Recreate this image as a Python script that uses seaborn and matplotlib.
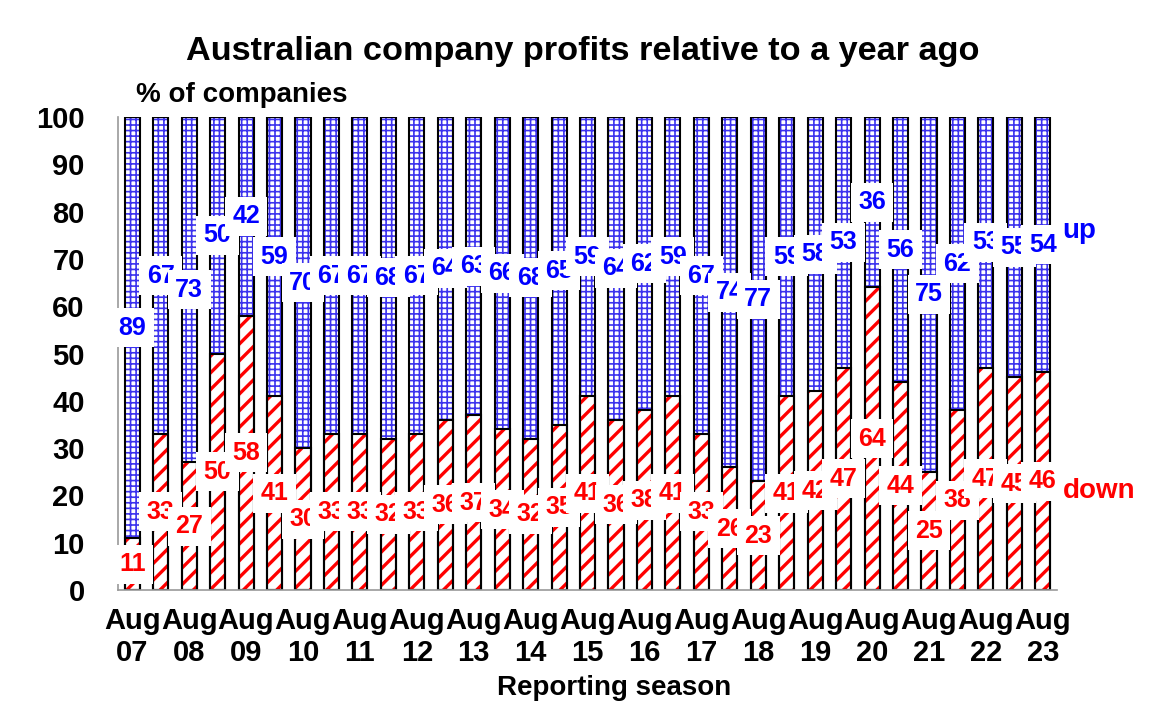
import numpy as np
import seaborn as sns
import matplotlib.pyplot as plt
import pandas as pd

seasons = ["Aug 07", "Feb 08", "Aug 08", "Feb 09", "Aug 09", "Feb 10", "Aug 10",
           "Feb 11", "Aug 11", "Feb 12", "Aug 12", "Feb 13", "Aug 13", "Feb 14",
           "Aug 14", "Feb 15", "Aug 15", "Feb 16", "Aug 16", "Feb 17", "Aug 17",
           "Feb 18", "Aug 18", "Feb 19", "Aug 19", "Feb 20", "Aug 20", "Feb 21",
           "Aug 21", "Feb 22", "Aug 22", "Feb 23", "Aug 23"]
down = [11, 33, 27, 50, 58, 41, 30, 33, 33, 32, 33, 36, 37, 34, 32, 35, 41,
        36, 38, 41, 33, 26, 23, 41, 42, 47, 64, 44, 25, 38, 47, 45, 46]
up = [89, 67, 73, 50, 42, 59, 70, 67, 67, 68, 67, 64, 63, 66, 68, 65, 59,
      64, 62, 59, 67, 74, 77, 59, 58, 53, 36, 56, 75, 62, 53, 55, 54]
tick_seasons = [s for s in seasons if s.startswith("Aug")]

BLUE = "#0000FF"
RED = "#FF0000"

df = pd.DataFrame({"season": seasons, "down": down, "up": up})
df["total"] = df["down"] + df["up"]

sns.set_style("white")
plt.rcParams["font.family"] = ["Liberation Sans", "DejaVu Sans"]
plt.rcParams["font.weight"] = "bold"
plt.rcParams["text.color"] = "black"
plt.rcParams["axes.labelcolor"] = "black"
plt.rcParams["xtick.labelcolor"] = "black"
plt.rcParams["ytick.labelcolor"] = "black"
plt.rcParams["hatch.linewidth"] = 1.2

fig = plt.figure(figsize=(11.65, 7.1), dpi=100)
ax = fig.add_axes([0.1013, 0.169, 0.806, 0.666])

bw = 0.53
sns.barplot(data=df, x="season", y="total", order=seasons, width=bw, errorbar=None,
            facecolor="white", edgecolor="#3c32ee", hatch="+++", linewidth=0, ax=ax)
n1 = len(ax.patches)
sns.barplot(data=df, x="season", y="down", order=seasons, width=bw, errorbar=None,
            facecolor="white", edgecolor=RED, hatch="//", linewidth=0, ax=ax)
for i, p in enumerate(ax.patches):
    if hasattr(p, "set_hatch_linewidth"):
        p.set_hatch_linewidth(1.2 if i < n1 else 2.4)

# black outlines
sns.barplot(data=df, x="season", y="total", order=seasons, width=bw, errorbar=None,
            facecolor="none", edgecolor="black", linewidth=1.5, ax=ax)
sns.barplot(data=df, x="season", y="down", order=seasons, width=bw, errorbar=None,
            facecolor="none", edgecolor="black", linewidth=1.5, ax=ax)

box = dict(boxstyle="square,pad=0.3", fc="white", ec="none")
for i, d in enumerate(down):
    ax.text(i, d / 2, f"{d}", ha="center", va="center", color=RED,
            fontsize=18, fontweight="bold", bbox=box, zorder=5)
for i, (d, u) in enumerate(zip(down, up)):
    ax.text(i, d + u / 2, f"{u}", ha="center", va="center", color=BLUE,
            fontsize=18, fontweight="bold", bbox=box, zorder=5)

ax.text(32.7, 76, "up", ha="left", va="center", color=BLUE, fontsize=20,
        fontweight="bold", clip_on=False)
ax.text(32.7, 21, "down", ha="left", va="center", color=RED, fontsize=20,
        fontweight="bold", clip_on=False)

ax.set_xlim(-0.5, len(seasons) - 0.5)
ax.set_ylim(0, 100)
ax.set_yticks(range(0, 101, 10))
ax.set_xticks([seasons.index(s) for s in tick_seasons])
ax.set_xticklabels([s.replace(" ", "\n") for s in tick_seasons])
ax.set_xticks(np.arange(-0.5, len(seasons), 1), minor=True)
ax.tick_params(axis="x", which="major", length=0, pad=12, labelsize=21)
ax.tick_params(axis="x", which="minor", length=8, color="#999999", width=1.2)
ax.tick_params(axis="y", length=10, color="#999999", width=1.2, pad=14, labelsize=21)
sns.despine(ax=ax)
for s in ["left", "bottom"]:
    ax.spines[s].set_color("#999999")
    ax.spines[s].set_linewidth(1.2)

ax.set_xlabel("Reporting season", fontsize=20, fontweight="bold")
ax.xaxis.set_label_coords(0.528, -0.18)
ax.set_ylabel("")

fig.text(0.5, 0.927, "Australian company profits relative to a year ago",
         ha="center", va="center", fontsize=24.7, fontweight="bold")
fig.text(0.117, 0.866, "% of companies", ha="left", va="center",
         fontsize=20, fontweight="bold")

fig.savefig("out.png", dpi=100)
